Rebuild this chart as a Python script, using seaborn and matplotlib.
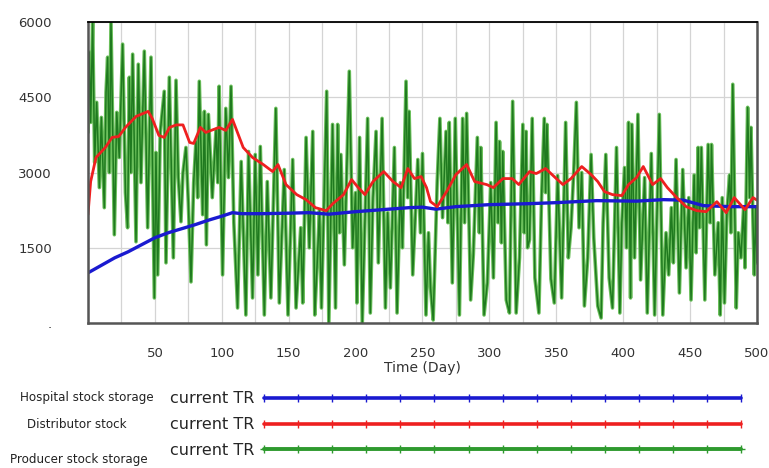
import matplotlib
matplotlib.use('Agg')
import matplotlib.pyplot as plt
from matplotlib.lines import Line2D
import seaborn as sns

# hospital stock storage (blue)
blue_days = [0, 10, 20, 30, 40, 50, 60, 70, 80, 90, 100, 108, 115, 130, 150, 165,
             180, 200, 220, 240, 250, 260, 275, 300, 330, 350, 380, 410, 430, 445,
             460, 480, 500]
blue_vals = [1000, 1150, 1300, 1420, 1560, 1700, 1800, 1880, 1960, 2050, 2130, 2200,
             2180, 2180, 2190, 2200, 2170, 2220, 2260, 2300, 2310, 2270, 2320, 2360,
             2380, 2400, 2440, 2430, 2460, 2450, 2340, 2320, 2320]

# distributor stock (red)
red_days = [0, 2, 6, 13, 18, 23, 28, 36, 45, 48, 53, 57, 61, 66, 71, 76, 79, 84, 88,
            98, 103, 108, 116, 123, 131, 138, 142, 148, 156, 163, 170, 178, 183, 191,
            197, 202, 207, 213, 221, 228, 234, 239, 244, 249, 253, 256, 261, 268, 275,
            283, 289, 298, 303, 310, 317, 322, 330, 335, 342, 350, 355, 361, 369, 376,
            381, 386, 392, 399, 404, 410, 415, 422, 428, 433, 440, 447, 455, 462, 470,
            477, 483, 491, 497, 500]
red_vals = [2160, 2820, 3300, 3500, 3700, 3720, 3900, 4120, 4220, 4080, 3740, 3700,
            3900, 3950, 3950, 3600, 3580, 3900, 3800, 3900, 3840, 4060, 3500, 3300,
            3160, 3020, 3160, 2760, 2560, 2460, 2300, 2240, 2380, 2560, 2860, 2700,
            2560, 2820, 3020, 2820, 2700, 3080, 2880, 2920, 2700, 2420, 2320, 2620,
            2960, 3160, 2820, 2760, 2700, 2880, 2880, 2760, 3020, 2980, 3080, 2880,
            2760, 2880, 3120, 2960, 2820, 2620, 2560, 2540, 2760, 2900, 3120, 2760,
            2880, 2700, 2500, 2320, 2240, 2220, 2420, 2200, 2500, 2260, 2500, 2450]

# producer stock storage (green)
green_days = [0, 1, 2, 3.5, 5, 6.5, 8.5, 10, 12.2, 13.5, 14.7, 16, 17.2, 19.7, 21.5,
              23.4, 25.9, 28, 29.6, 30.9, 32, 33.4, 35.9, 37.6, 39.6, 42.1, 44.6, 47.1,
              49.6, 50.8, 52.1, 54, 57, 58.3, 60.8, 63.8, 65.8, 67.5, 69.5, 71, 73.2,
              75, 77, 79, 80.7, 82, 83.2, 85.7, 87, 88.5, 90, 92.9, 95.7, 97, 98,
              100.6, 103, 105, 106.9, 109, 111.8, 114.5, 118, 120, 123, 125, 127,
              128.8, 131.8, 134, 136.7, 140.4, 143, 146.7, 149.5, 153, 155.5, 159,
              160.5, 163, 165.4, 168, 169.5, 171.5, 173, 174.5, 178.4, 180, 182.8,
              185, 186.6, 188, 189, 191.6, 195.3, 197.8, 200, 201, 203, 205, 209, 211,
              213, 215.3, 217, 219.8, 222.3, 224, 226, 229, 231, 233.5, 235, 237.7,
              239, 240, 242.7, 246.5, 248.5, 250, 252.6, 254.5, 256, 258, 261, 263,
              265, 267.6, 269, 270, 272.3, 274.5, 277.6, 280, 281.5, 283, 286, 288,
              291, 292.5, 293.6, 296, 298.5, 301, 303, 305, 306.5, 307.6, 309, 310,
              312.6, 315, 317.4, 320, 322.5, 325, 326, 327.4, 328.5, 330, 332, 334,
              337, 339, 341, 342, 343, 346, 348.5, 351, 354, 357, 359, 361, 363, 365,
              367, 369, 371, 373.5, 376, 378, 381, 383.5, 385, 387, 389.5, 392, 395,
              397.5, 399, 401, 402.5, 404, 405.5, 406.5, 408.5, 411, 413, 416, 418,
              421, 423.5, 427, 429.6, 432, 434, 436, 437.5, 439.5, 442, 444.5, 447,
              449, 450.7, 453, 454.5, 456, 457, 458.4, 461, 463.5, 465, 466, 468.5,
              471, 472.5, 474, 475.7, 477.5, 479.5, 480.5, 481.9, 484.5, 486, 488,
              490, 491, 493, 494.5, 495.5, 497, 498, 499, 500]
green_vals = [3800, 5400, 4000, 6000, 3200, 4400, 2700, 4100, 2300, 4600, 5300, 3000,
              6000, 1760, 4200, 3300, 5560, 2600, 1900, 4900, 3000, 5360, 1620, 5160,
              2800, 5420, 1900, 5300, 500, 3400, 960, 3800, 4620, 1200, 4900, 1300,
              4840, 2900, 2020, 3000, 3500, 2400, 820, 2800, 3620, 2500, 4820, 2160,
              4220, 1560, 4160, 2500, 3860, 2800, 4720, 960, 4280, 2900, 4720, 2000,
              300, 3220, 160, 3420, 500, 3360, 960, 3520, 160, 2820, 500, 4280, 400,
              3060, 160, 3260, 300, 1900, 400, 3700, 1500, 3820, 160, 1300, 2240, 300,
              4620, 0, 3960, 300, 3960, 1800, 3360, 1160, 5020, 1500, 2600, 400, 3700,
              0, 4080, 200, 2500, 3820, 1200, 4080, 300, 2200, 700, 3500, 200, 2800,
              1500, 4820, 2500, 4220, 960, 3260, 1800, 3380, 160, 1800, 700, 60, 2820,
              4080, 2100, 3820, 2000, 4000, 800, 4080, 160, 4080, 2000, 4180, 460,
              1360, 3700, 1800, 3500, 160, 800, 2800, 900, 4000, 2000, 3620, 1600,
              3420, 460, 200, 4420, 200, 1300, 3960, 1800, 3820, 1500, 1660, 4080,
              900, 200, 2500, 4080, 2600, 3960, 880, 400, 2940, 500, 4000, 1300, 1900,
              3000, 4400, 1900, 3000, 340, 1300, 3360, 1700, 340, 100, 2000, 3360, 900,
              300, 3500, 200, 2000, 3100, 1500, 4000, 500, 3960, 1300, 4160, 860, 2900,
              200, 3380, 160, 4160, 160, 1800, 960, 2300, 1200, 3260, 600, 3060, 1100,
              2500, 460, 2950, 1400, 3500, 1900, 3500, 460, 3560, 2000, 3560, 960,
              2000, 160, 2500, 400, 2200, 2950, 1800, 4760, 300, 1800, 1300, 2300,
              1100, 4300, 2500, 3900, 2000, 960, 2300, 1200]

y_ticks = [0, 1500, 3000, 4500, 6000]
y_labels = ['.', '1500', '3000', '4500', '6000']
x_labels = [50, 100, 150, 200, 250, 300, 350, 400, 450, 500]
row_labels = ['Hospital stock storage', 'Distributor stock', 'Producer stock storage']

sns.set_theme(style='white')
plt.rcParams['font.family'] = ['DejaVu Sans']

fig = plt.figure(figsize=(7.69, 4.68), dpi=100)
ax = fig.add_axes([0.1144, 0.3098, 0.870, 0.643])

sns.lineplot(x=green_days, y=green_vals, ax=ax, color='#6cc05c', linewidth=2.6,
             sort=False, estimator=None)
sns.lineplot(x=green_days, y=green_vals, ax=ax, color='#1f7a1f', linewidth=1.1,
             sort=False, estimator=None)
sns.lineplot(x=blue_days, y=blue_vals, ax=ax, color='#1a1ad0', linewidth=2.4,
             sort=False, estimator=None)
sns.lineplot(x=red_days, y=red_vals, ax=ax, color='#ee2020', linewidth=2.0,
             sort=False, estimator=None)

ax.set_xlim(0, 500)
ax.set_ylim(0, 6000)
grid_x = list(range(0, 501, 25))
ax.set_xticks(grid_x)
ax.set_xticklabels([str(v) if v in x_labels else '' for v in grid_x])
ax.set_yticks(y_ticks)
ax.set_yticklabels(y_labels)
ax.grid(True, color='#d4d4d4', linewidth=0.9)
ax.tick_params(axis='x', length=0, pad=17, labelsize=9.5, labelcolor='#333333')
ax.tick_params(axis='y', length=0, pad=26, labelsize=9.5, labelcolor='#333333')
ax.set_xlabel('Time (Day)', fontsize=10, color='#333333', labelpad=1)
ax.set_ylabel('')

ax.spines['top'].set_color('black')
ax.spines['top'].set_linewidth(1.3)
for side in ['bottom', 'left', 'right']:
    ax.spines[side].set_color('#555555')
    ax.spines[side].set_linewidth(1.8)

# legend rows
handles = [
    Line2D([], [], color='#1a1ad0', linewidth=2.6, marker='|', markersize=6),
    Line2D([], [], color='#ee2020', linewidth=2.6, marker='|', markersize=6),
    Line2D([], [], color='#2e9a2e', linewidth=2.8, marker='+', markersize=6),
]
leg = fig.legend(handles, ['current TR'] * 3, loc='upper left',
                 bbox_to_anchor=(0.221, 0.164), bbox_transform=fig.transFigure,
                 frameon=False, markerfirst=False, numpoints=15, handlelength=30.5,
                 labelspacing=0.68, handletextpad=0.3, borderpad=0, borderaxespad=0,
                 prop={'size': 11.5})

row_y = [0.151, 0.093, 0.018]
row_x = [0.113, 0.100, 0.102]
for txt, yy, xx in zip(row_labels, row_y, row_x):
    fig.text(xx, yy, txt, ha='center', va='center', fontsize=8.6, color='#222222')

fig.savefig('out.png', dpi=100)
